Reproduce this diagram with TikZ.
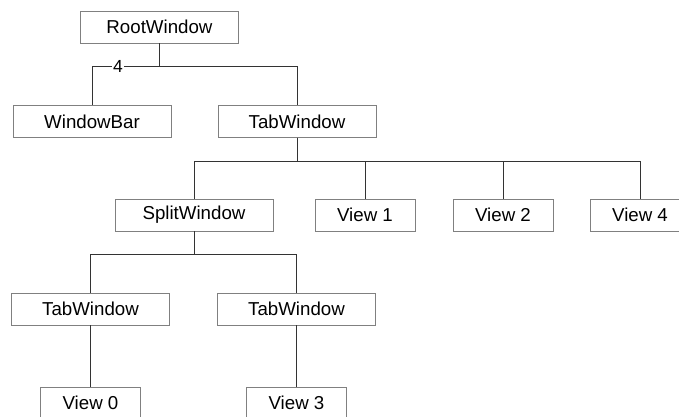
\documentclass[tikz,border=0pt]{standalone}
\usepackage{fontspec}
\setmainfont{Liberation Sans}
\tikzset{
  winbox/.style={draw=black!50, line width=0.9pt, minimum width=158pt, minimum height=32pt, inner sep=0pt,
    font=\fontsize{18.7}{22}\selectfont},
  viewbox/.style={winbox, minimum width=100pt},
  wire/.style={draw=black!80, line width=0.9pt}
}
\begin{document}
\begin{tikzpicture}[x=1pt, y=-1pt]
    % 画布
    \path[use as bounding box, clip] (0,0) rectangle (679,417);

    % 第一层
    \node[winbox] (root) at (159.5,27) {RootWindow};

    % 第二层
    \node[winbox] (wbar) at (92,121.5) {WindowBar};
    \node[winbox] (tab) at (297,121.5) {TabWindow};

    % 第三层
    \node[winbox] (split) at (194,215) {SplitWindow};
    \node[viewbox] (v1) at (365,215) {View 1};
    \node[viewbox] (v2) at (503,215) {View 2};
    \node[viewbox] (v4) at (640,215) {View 4};

    % 第四层
    \node[winbox] (tabA) at (90.5,309) {TabWindow};
    \node[winbox] (tabB) at (296.5,309) {TabWindow};

    % 第五层 (下边被裁掉)
    \node[viewbox] (v0) at (90.5,403) {View 0};
    \node[viewbox] (v3) at (296.5,403) {View 3};

    % RootWindow 的连线
    \draw[wire] (root.south) -- ++(0,23) -| (wbar.north);
    \draw[wire] (root.south) -- ++(0,23) -| (tab.north);
    \node[fill=white, inner sep=1.5pt, font=\fontsize{17.5}{20}\selectfont] (num) at (118,66) {4};

    % TabWindow 的连线
    \draw[wire] (tab.south) -- ++(0,23) -| (split.north);
    \draw[wire] (tab.south) -- ++(0,23) -| (v1.north);
    \draw[wire] (tab.south) -- ++(0,23) -| (v2.north);
    \draw[wire] (tab.south) -- ++(0,23) -| (v4.north);

    % SplitWindow 的连线
    \draw[wire] (split.south) -- ++(0,23) -| (tabA.north);
    \draw[wire] (split.south) -- ++(0,23) -| (tabB.north);

    % 最下面
    \draw[wire] (tabA.south) -- (v0.north);
    \draw[wire] (tabB.south) -- (v3.north);
\end{tikzpicture}
\end{document}
